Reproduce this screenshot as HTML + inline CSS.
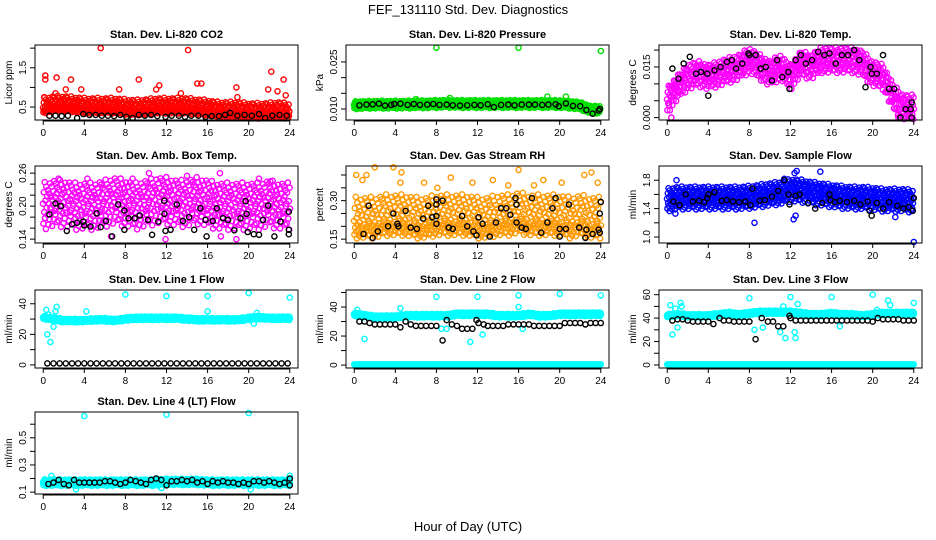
<!DOCTYPE html>
<html><head><meta charset="utf-8">
<style>
html,body{margin:0;padding:0;background:#fff;}
svg{display:block;font-family:"Liberation Sans",sans-serif;}
</style></head>
<body>
<svg id="fig" width="936" height="540" viewBox="0 0 936 540">
<rect width="936" height="540" fill="#fff"/>
<text x="468" y="14" text-anchor="middle" font-size="13">FEF_131110  Std. Dev. Diagnostics</text>
<text x="468" y="531" text-anchor="middle" font-size="13">Hour of Day (UTC)</text>
</svg>
<script>
// ---- data ----
const xTickValues = [0,4,8,12,16,20,24];
const xTickLabels = ["0","4","8","12","16","20","24"];
const cloudOffsets = [0.1,-0.7,0.55,-0.25,0.95,-0.5,0.2,-0.95,0.75,-0.1,0.35,-0.4,0.6,-0.8,0.05,0.45,-0.6,0.85,-0.15,0.3,-0.35,0.7,-0.9,0.15,-0.05,0.5,-0.65,0.9,-0.3,0.25,-0.45,0.8,-0.2,0.4,-0.75,0.65,0.0];

const co2Means = [0.45,0.5,0.5,0.48,0.45,0.45,0.45,0.45,0.42,0.4,0.42,0.45,0.45,0.45,0.45,0.42,0.4,0.35,0.35,0.35,0.32,0.32,0.33,0.35,0.3];
const co2Outliers = [[5.6,2.0],[14.1,1.95],[0.2,1.3],[0.2,1.2],[1.3,1.25],[2.7,1.2],[22.2,1.4],[23.4,1.2],[9.3,1.2],[2.2,0.95],[3.7,0.95],[7.4,0.95],[11.3,1.05],[15.0,1.1],[15.4,1.1],[18.8,1.0],[18.9,0.75],[21.9,0.95],[22.8,0.9],[23.6,0.8],[11.0,0.95],[13.4,0.85],[0.1,0.75],[1.2,0.85]];
const co2Black = [[0.6,0.28],[1.2,0.28],[1.8,0.27],[2.4,0.28],[3.3,0.22],[3.9,0.32],[4.5,0.3],[5.1,0.3],[5.7,0.28],[6.3,0.28],[6.9,0.27],[7.5,0.3],[8.1,0.25],[8.7,0.22],[9.3,0.3],[9.9,0.28],[10.5,0.3],[11.1,0.27],[11.9,0.25],[12.5,0.28],[13.2,0.28],[13.8,0.25],[14.4,0.28],[15.1,0.28],[15.8,0.25],[16.4,0.27],[17.1,0.27],[17.7,0.3],[18.2,0.35],[18.9,0.28],[19.6,0.3],[20.3,0.28],[21,0.32],[21.6,0.22],[22.3,0.28],[23,0.3],[23.7,0.28]];

const presMeans = [0.0112,0.0113,0.0114,0.0114,0.0114,0.0114,0.0115,0.0115,0.0116,0.0117,0.0116,0.0116,0.0116,0.0116,0.0116,0.0116,0.0116,0.0116,0.0116,0.0116,0.0116,0.0114,0.0110,0.0098,0.0098];
const presOutliers = [[8,0.0295],[16,0.0295],[24,0.0285],[18.8,0.0140],[20.6,0.0140],[9.3,0.0135],[6,0.0132]];
const presBlack = [[0.5,0.0112],[1.2,0.0114],[1.8,0.0115],[2.4,0.0117],[3,0.0111],[3.6,0.0113],[3.9,0.0116],[4.5,0.0117],[5.2,0.0113],[5.8,0.0116],[6.4,0.0113],[7.1,0.0114],[7.7,0.0116],[8.3,0.0113],[9,0.0114],[9.6,0.0112],[10.3,0.0111],[11,0.0112],[11.7,0.0113],[12.3,0.0112],[13,0.0115],[13.6,0.0106],[14.3,0.0113],[15,0.0114],[15.6,0.0112],[16.3,0.0114],[17,0.0114],[17.6,0.0114],[18.3,0.0113],[18.9,0.0114],[19.6,0.0115],[19.9,0.0109],[20.6,0.0118],[21.3,0.0110],[22,0.0109],[22.6,0.0097],[23.2,0.0085],[23.8,0.0095],[23.9,0.0100]];

const tempMeans = [0.005,0.009,0.012,0.013,0.012,0.013,0.014,0.015,0.017,0.015,0.013,0.015,0.012,0.016,0.015,0.017,0.017,0.017,0.017,0.016,0.013,0.012,0.006,0.003,0.003];
const tempOutliers = [[0.4,0.0],[22.5,0.0],[23.5,0.0]];
const tempBlack = [[0.5,0.0145],[1.1,0.0115],[1.6,0.016],[2.2,0.018],[2.8,0.013],[3.3,0.0135],[3.9,0.013],[4,0.0065],[4.6,0.014],[5.2,0.015],[5.8,0.0165],[6.3,0.017],[6.7,0.0145],[7.3,0.016],[7.9,0.019],[8,0.0185],[8.6,0.0185],[9.1,0.0145],[9.6,0.015],[10.2,0.011],[10.7,0.017],[11.2,0.012],[11.8,0.0135],[11.9,0.0085],[12.5,0.017],[13,0.0185],[13.5,0.016],[14.1,0.017],[14.7,0.0195],[15.3,0.0185],[15.8,0.019],[16.4,0.016],[17,0.0185],[17.6,0.0185],[18.2,0.020],[18.7,0.017],[19.3,0.009],[19.8,0.015],[19.9,0.013],[20.4,0.013],[21,0.0185],[21.6,0.0085],[22.1,0.0085],[22.7,0.0],[23.2,0.0025],[23.7,0.0025],[23.8,0.0045],[23.8,0.0]];

const ambMeans = [0.2,0.205,0.205,0.2,0.2,0.2,0.205,0.21,0.205,0.2,0.205,0.21,0.21,0.205,0.205,0.21,0.205,0.2,0.2,0.2,0.2,0.2,0.205,0.2,0.2];
const ambOutliers = [[1.5,0.25],[4.3,0.25],[8.7,0.25],[10.3,0.26],[14,0.255],[17.2,0.26],[21,0.25],[22.1,0.245],[6.6,0.145],[17.3,0.145],[18.8,0.14],[11.9,0.14]];
const ambBlack = [[0.6,0.185],[1.2,0.205],[1.7,0.2],[2.3,0.155],[2.8,0.167],[3.3,0.17],[3.9,0.172],[4,0.165],[4.6,0.163],[5.2,0.187],[5.6,0.162],[6.1,0.173],[6.7,0.145],[7.3,0.203],[7.9,0.192],[7.9,0.157],[8.3,0.178],[8.9,0.178],[9.4,0.183],[10.2,0.175],[10.6,0.148],[11.2,0.172],[11.8,0.21],[11.8,0.186],[11.9,0.155],[12.4,0.157],[13,0.203],[13.6,0.173],[14.2,0.18],[14.7,0.157],[15.3,0.196],[15.8,0.175],[15.9,0.145],[16.5,0.173],[16.9,0.196],[17.5,0.178],[18,0.175],[18.6,0.156],[19.2,0.178],[19.7,0.209],[19.8,0.186],[19.9,0.153],[20.5,0.149],[21,0.148],[21.4,0.175],[21.9,0.201],[22.5,0.145],[23.1,0.172],[23.9,0.19],[23.9,0.157],[23.9,0.149]];

const rhMeans = [0.21,0.21,0.21,0.22,0.22,0.22,0.21,0.21,0.22,0.22,0.22,0.22,0.21,0.21,0.22,0.22,0.23,0.22,0.22,0.22,0.22,0.21,0.22,0.21,0.21];
const rhOutliers = [[0.2,0.40],[1.2,0.40],[2,0.43],[3.8,0.43],[4.5,0.37],[4.6,0.41],[6.8,0.37],[8.1,0.35],[9.4,0.39],[11.5,0.37],[13.5,0.38],[15,0.36],[16,0.42],[17.5,0.36],[18.4,0.38],[20.2,0.37],[22.4,0.40],[23.1,0.41],[23.7,0.37],[0.8,0.38]];
const rhBlack = [[0.9,0.17],[1.4,0.28],[1.8,0.155],[2.3,0.18],[3.3,0.2],[3.8,0.25],[4.2,0.21],[4.3,0.2],[5,0.26],[5.5,0.195],[6.1,0.19],[6.7,0.23],[7.2,0.28],[7.6,0.235],[8,0.24],[8,0.21],[8,0.285],[8,0.305],[8.6,0.30],[9.2,0.195],[9.6,0.19],[10.5,0.24],[11,0.2],[11.6,0.18],[11.9,0.165],[12.1,0.235],[12.5,0.21],[13.2,0.16],[13.8,0.215],[14.3,0.27],[14.8,0.27],[15.2,0.245],[15.7,0.31],[15.8,0.285],[15.8,0.215],[16.3,0.195],[16.7,0.19],[17.3,0.31],[18.2,0.175],[18.8,0.215],[19.3,0.27],[19.6,0.31],[20,0.19],[20,0.16],[20.6,0.19],[20.9,0.285],[21.9,0.195],[22.5,0.155],[22.6,0.187],[23.2,0.17],[23.8,0.187],[23.9,0.175],[23.9,0.25],[24,0.295]];

const flowMeans = [1.52,1.55,1.55,1.55,1.55,1.55,1.55,1.55,1.56,1.58,1.6,1.62,1.66,1.65,1.62,1.6,1.58,1.56,1.55,1.55,1.54,1.52,1.52,1.52,1.5];
const flowOutliers = [[8.5,1.2],[12.3,1.25],[12.5,1.3],[24,0.93],[0.8,1.33],[0.9,1.8],[12.4,1.9],[12.6,1.93],[14.9,1.92],[11.4,1.82],[22.2,1.28]];
const flowBlack = [[0.6,1.5],[1.2,1.45],[1.8,1.6],[2.5,1.5],[3.1,1.51],[3.6,1.49],[3.9,1.55],[4,1.6],[4.6,1.63],[5.3,1.51],[5.8,1.52],[6.4,1.5],[7,1.49],[7.6,1.5],[8.1,1.45],[8.3,1.68],[9,1.51],[9.5,1.52],[10.2,1.57],[10.8,1.65],[11.4,1.8],[11.8,1.6],[11.9,1.46],[12.5,1.58],[12.9,1.6],[13.7,1.48],[14.4,1.4],[15.1,1.48],[15.8,1.6],[15.9,1.52],[16.3,1.49],[16.8,1.51],[17.5,1.49],[18.2,1.51],[18.8,1.46],[19.5,1.5],[19.7,1.37],[19.9,1.3],[20.4,1.48],[21,1.4],[21.6,1.49],[22.4,1.44],[23,1.4],[23.5,1.42],[24,1.55],[23.9,1.37]];

const l1Means = [31,30,29,29,29,29.5,29.5,29,30,30.5,30.5,30.5,30.5,30.5,30,29.5,29.5,29.5,29.5,29.5,30.5,31,30.5,30.5,30.5];
const l1Outliers = [[8,46],[12,45],[16,45],[20,47],[24,44],[0.4,20],[0.7,15],[1,25],[1.3,38],[1.2,35],[0.3,36],[4.2,35],[16,35],[20.5,27],[20.8,34],[0.5,33]];
const l1Black = [[0.4,1],[1,1],[1.6,1],[2.2,1],[2.8,1],[3.4,1],[4,1],[4.6,1],[5.2,1],[5.8,1],[6.4,1],[7,1],[7.6,1],[8.2,1],[8.8,1],[9.4,1],[10,1],[10.6,1],[11.2,1],[11.8,1],[12.4,1],[13,1],[13.6,1],[14.2,1],[14.8,1],[15.4,1],[16,1],[16.6,1],[17.2,1],[17.8,1],[18.4,1],[19,1],[19.6,1],[20.2,1],[20.8,1],[21.4,1],[22,1],[22.6,1],[23.2,1],[23.8,1]];

const l2Means = [35,34,33,33,33,34,34,34,34,34,35,35,35,35,34,34,34,35,34,34,35,35,35,35,35];
const l2Outliers = [[8,47],[12,47],[16,48],[20,49],[24,48],[1,18],[11.3,16],[12.5,21],[4.5,39],[16,40],[16.4,25],[8.5,25],[9,25],[0.3,38]];
const l2Black = [[0.5,30],[1,30],[1.5,29],[2,28],[2.5,28],[3,28],[3.5,28],[4,28],[4.5,26],[5,30],[5.5,28],[6,27],[6.5,27],[7,27],[7.5,27],[8,27],[8.6,17],[9,31],[9.5,28],[10,27],[10.5,25],[11,25],[11.5,25],[11.9,31],[12.1,29],[12.6,28],[13,27],[13.5,27],[14,27],[14.5,27],[15,28],[15.5,28],[16,28],[16.5,28],[17,28],[17.5,27],[18,27],[18.5,27],[19,27],[19.5,27],[20,27],[20.5,29],[21,29],[21.5,29],[22,29],[22.5,28],[23,29],[23.5,29],[24,29]];

const l3Means = [42,43,42,42,42,43,44,43,44,45,45,45,45,44,43,43,44,43,43,42,43,44,44,44,44];
const l3Outliers = [[8,57],[12,58],[16,58],[20,60],[24,53],[0.5,26],[1,32],[1.3,53],[1.4,50],[0.3,51],[0.8,48],[8.5,30],[9.3,32],[11,28],[11.5,23],[12.4,28],[12.5,23],[12.7,52],[11.3,50],[20.4,47],[21.5,55],[21.7,51],[16.8,33]];
const l3Black = [[0.5,38],[1,39],[1.5,39],[2,38],[2.5,37],[3,37],[3.5,37],[4,37],[4.5,35],[5.1,40],[5.5,38],[6,38],[6.5,37],[7,37],[7.5,37],[8,37],[8.6,22],[9.2,40],[9.8,37],[10.3,37],[10.8,33],[11.3,33],[11.9,42],[12,40],[12.5,38],[13,38],[13.5,38],[14,38],[14.5,38],[15,38],[15.5,38],[16,38],[16.5,38],[17,38],[17.5,38],[18,38],[18.5,38],[19,38],[19.5,38],[20,37],[20.5,40],[21,39],[21.5,39],[22,39],[22.5,39],[23,38],[23.5,38],[24,38]];

const l4Means = [0.17,0.17,0.17,0.17,0.17,0.17,0.17,0.17,0.17,0.17,0.17,0.17,0.175,0.175,0.175,0.175,0.17,0.17,0.17,0.17,0.17,0.17,0.17,0.17,0.17];
const l4Outliers = [[4,0.66],[12,0.67],[20,0.69],[0.8,0.22],[24,0.22],[3.2,0.12],[20.2,0.12],[11.5,0.13]];
const l4Black = [[0.5,0.16],[1,0.17],[1.5,0.19],[2,0.16],[2.5,0.15],[3,0.19],[3.5,0.17],[4,0.17],[4.5,0.17],[5,0.17],[5.5,0.17],[6,0.18],[6.5,0.18],[7,0.17],[7.5,0.16],[8,0.17],[8.5,0.19],[9,0.18],[9.5,0.17],[10,0.16],[10.5,0.19],[11,0.2],[11.5,0.19],[12,0.15],[12.5,0.18],[13,0.18],[13.5,0.19],[14,0.18],[14.5,0.19],[15,0.17],[15.5,0.18],[16,0.16],[16.5,0.18],[17,0.17],[17.5,0.18],[18,0.17],[18.5,0.17],[19,0.16],[19.5,0.17],[20,0.16],[20.5,0.18],[21,0.18],[21.5,0.17],[22,0.18],[22.5,0.17],[23,0.16],[23.5,0.17],[24,0.2],[24,0.15]];

const NS = "http://www.w3.org/2000/svg";
const svg = document.getElementById("fig");
function mk(tag, attrs, parent){
  const e = document.createElementNS(NS, tag);
  for (const k in attrs) e.setAttribute(k, attrs[k]);
  (parent||svg).appendChild(e);
  return e;
}
const X_MIN=-0.8, X_MAX=24.8;
function panel(p){
  const g = mk("g",{});
  
  
  const [x0,y0,x1,y1]=p.box;
  const sx = v => x0 + (v-X_MIN)/(X_MAX-X_MIN)*(x1-x0);
  const sy = v => y1 - (v-p.ylim[0])/(p.ylim[1]-p.ylim[0])*(y1-y0);
  const clampY = y => Math.max(y0+1, Math.min(y1-1, y));
  const pts = mk("g",{fill:"none","stroke-width":"1.4"},g);
  
  
  const dot=(h,v,col)=>{
    mk("circle",{cx:sx(h).toFixed(1),cy:clampY(sy(v)).toFixed(1),r:"2.6",stroke:col},pts);
  };
  let i=0;
  const step = p.step||0.08;
  for (let t=0; t<=24.001; t+=step, i++){
    const hi=Math.min(23,Math.floor(t)), f=t-hi;
    const m=p.means[hi]*(1-f)+p.means[hi+1]*f;
    for (let k=0;k<p.per;k++){
      const o=cloudOffsets[(i*p.per+k)%cloudOffsets.length];
      const s = (o>0 && p.up) ? p.up : p.spread;
      dot(t + (k-((p.per-1)/2))*step/p.per,m+s*o,p.color);
    }
  }
  if (p.zeroRow) for (let t=0;t<=24.001;t+=0.1) dot(t,0.5,p.color);
  p.outliers.forEach(d=>dot(d[0],d[1],p.color));
  p.black.forEach(d=>dot(d[0],d[1],"#000"));
  const b = mk("rect",{x:x0,y:y0,width:x1-x0,height:y1-y0,fill:"none",stroke:"#000","stroke-width":"1"},g);
  
  
  const xa = mk("g",{},g);
  
  
  mk("line",{x1:sx(0),x2:sx(24),y1:y1+1,y2:y1+1,stroke:"#000"},xa);
  xTickValues.forEach((v,j)=>{
    mk("line",{x1:sx(v),x2:sx(v),y1:y1,y2:y1+5,stroke:"#000"},xa);
    const t=mk("text",{x:sx(v),y:y1+16,"text-anchor":"middle","font-size":"10"},xa);
    t.textContent=xTickLabels[j];
  });
  const ya = mk("g",{},g);
  
  
  p.yticks.forEach((v,j)=>{
    const y=sy(v);
    mk("line",{x1:x0-5,x2:x0,y1:y,y2:y,stroke:"#000"},ya);
    if (p.ylabels[j]){
      const t=mk("text",{x:x0-9,y:y,"text-anchor":"middle","font-size":"10",transform:`rotate(-90 ${x0-9} ${y})`},ya);
      t.textContent=p.ylabels[j];
    }
  });
  const yt=mk("text",{x:x0-23,y:(y0+y1)/2,"text-anchor":"middle","font-size":"10",transform:`rotate(-90 ${x0-23} ${(y0+y1)/2})`},g);
  
  
  yt.textContent=p.ylab;
  const tt=mk("text",{x:(x0+x1)/2,y:y0-7,"text-anchor":"middle","font-size":"11","font-weight":"bold"},g);
  
  
  tt.textContent=p.title;
}
const C1=[35,298],C2=[346,609],C3=[659,922];
const R1=[45,120],R2=[166,243],R3=[290,368],R4=[412,494];
const B=(c,r)=>[c[0],r[0],c[1],r[1]];
panel({name:"co2-panel",title:"Stan. Dev. Li-820 CO2",ylab:"Licor ppm",box:B(C1,R1),ylim:[0.17,2.08],yticks:[0.5,1,1.5,2],ylabels:["0.5","","1.5",""],color:"#ff0000",means:co2Means,spread:0.12,up:0.3,per:2,step:0.07,outliers:co2Outliers,black:co2Black});
panel({name:"pressure-panel",title:"Stan. Dev. Li-820 Pressure",ylab:"kPa",box:B(C2,R1),ylim:[0.0065,0.0304],yticks:[0.010,0.015,0.020,0.025],ylabels:["0.010","","","0.025"],color:"#00e000",means:presMeans,spread:0.0013,per:2,step:0.07,outliers:presOutliers,black:presBlack});
panel({name:"temp-panel",title:"Stan. Dev. Li-820 Temp.",ylab:"degrees C",box:B(C3,R1),ylim:[-0.0007,0.0215],yticks:[0,0.005,0.010,0.015,0.020],ylabels:["0.000","","","0.015",""],color:"#ff00ff",means:tempMeans,spread:0.004,per:2,step:0.08,outliers:tempOutliers,black:tempBlack});
panel({name:"ambbox-panel",title:"Stan. Dev. Amb. Box Temp.",ylab:"degrees C",box:B(C1,R2),ylim:[0.133,0.273],yticks:[0.14,0.16,0.18,0.2,0.22,0.24,0.26],ylabels:["0.14","","","0.20","","","0.26"],color:"#ff00ff",means:ambMeans,spread:0.045,per:2,step:0.08,outliers:ambOutliers,black:ambBlack});
panel({name:"rh-panel",title:"Stan. Dev. Gas Stream RH",ylab:"percent",box:B(C2,R2),ylim:[0.135,0.435],yticks:[0.15,0.2,0.25,0.3,0.35,0.4],ylabels:["0.15","","","0.30","",""],color:"#ff9900",means:rhMeans,spread:0.06,up:0.11,per:2,step:0.08,outliers:rhOutliers,black:rhBlack});
panel({name:"sampleflow-panel",title:"Stan. Dev. Sample Flow",ylab:"ml/min",box:B(C3,R2),ylim:[0.916,2.0],yticks:[1.0,1.2,1.4,1.6,1.8],ylabels:["1.0","","1.4","","1.8"],color:"#0000ff",means:flowMeans,spread:0.17,per:2,step:0.07,outliers:flowOutliers,black:flowBlack});
panel({name:"line1-panel",title:"Stan. Dev. Line 1 Flow",ylab:"ml/min",box:B(C1,R3),ylim:[-2,49],yticks:[0,10,20,30,40],ylabels:["0","","20","","40"],color:"#00ffff",means:l1Means,spread:1.2,per:2,outliers:l1Outliers,black:l1Black});
panel({name:"line2-panel",title:"Stan. Dev. Line 2 Flow",ylab:"ml/min",box:B(C2,R3),ylim:[-2,51.7],yticks:[0,10,20,30,40,50],ylabels:["0","","20","","40",""],color:"#00ffff",means:l2Means,spread:1.3,per:2,outliers:l2Outliers,black:l2Black,zeroRow:true});
panel({name:"line3-panel",title:"Stan. Dev. Line 3 Flow",ylab:"ml/min",box:B(C3,R3),ylim:[-2.6,64],yticks:[0,10,20,30,40,50,60],ylabels:["0","","20","","40","","60"],color:"#00ffff",means:l3Means,spread:1.5,per:2,outliers:l3Outliers,black:l3Black,zeroRow:true});
panel({name:"line4-panel",title:"Stan. Dev. Line 4 (LT) Flow",ylab:"ml/min",box:B(C1,R4),ylim:[0.086,0.69],yticks:[0.1,0.2,0.3,0.4,0.5,0.6],ylabels:["0.1","","0.3","","0.5",""],color:"#00ffff",means:l4Means,spread:0.025,per:2,outliers:l4Outliers,black:l4Black});
</script>
</body></html>
